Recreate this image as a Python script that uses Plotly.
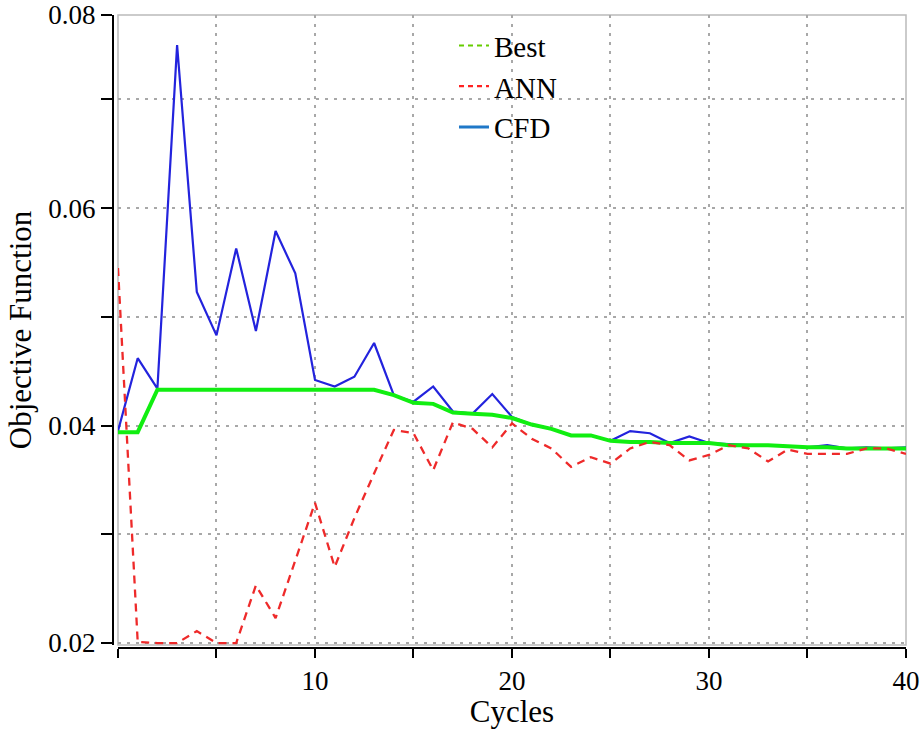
import plotly.graph_objects as go

cycles = list(range(0, 41))

cfd = [0.0395, 0.0462, 0.0434, 0.0750, 0.0523, 0.0483, 0.0563, 0.0487, 0.0579, 0.0540,
       0.0442, 0.0436, 0.0445, 0.0476, 0.0428, 0.0422, 0.0436, 0.0413, 0.0411, 0.0429,
       0.0408, 0.0401, 0.0397, 0.0391, 0.0391, 0.0386, 0.0395, 0.0393, 0.0384, 0.0390,
       0.0384, 0.0383, 0.0382, 0.0382, 0.0381, 0.0380, 0.0382, 0.0379, 0.0380, 0.0379,
       0.0380]

best = [0.0394, 0.0394, 0.0433, 0.0433, 0.0433, 0.0433, 0.0433, 0.0433, 0.0433, 0.0433,
        0.0433, 0.0433, 0.0433, 0.0433, 0.0428, 0.0421, 0.0420, 0.0412, 0.0411, 0.0410,
        0.0407, 0.0401, 0.0397, 0.0391, 0.0391, 0.0386, 0.0385, 0.0385, 0.0384, 0.0384,
        0.0384, 0.0382, 0.0382, 0.0382, 0.0381, 0.0380, 0.0380, 0.0379, 0.0379, 0.0379,
        0.0379]

ann = [0.0545, 0.0201, 0.0200, 0.0200, 0.0211, 0.0200, 0.0200, 0.0253, 0.0223, 0.0276,
       0.0329, 0.0270, 0.0315, 0.0356, 0.0396, 0.0393, 0.0359, 0.0403, 0.0397, 0.0380,
       0.0402, 0.0388, 0.0379, 0.0362, 0.0371, 0.0365, 0.0379, 0.0385, 0.0382, 0.0368,
       0.0373, 0.0382, 0.0379, 0.0367, 0.0378, 0.0374, 0.0374, 0.0374, 0.0379, 0.0379,
       0.0374]

x_tickvals = [0, 5, 10, 15, 20, 25, 30, 35, 40]
x_ticktext = ["", "", "10", "", "20", "", "30", "", "40"]
y_top = 0.07777
y_tickvals = [0.02, 0.03, 0.04, 0.05, 0.06, 0.07, y_top]
y_ticktext = ["0.02", "", "0.04", "", "0.06", "", "0.08"]

FONT = "Liberation Serif, Times New Roman, serif"

fig = go.Figure()
fig.add_trace(go.Scatter(x=cycles, y=cfd, mode="lines", showlegend=False,
                         line=dict(color="#2323dd", width=2.2)))
fig.add_trace(go.Scatter(x=cycles, y=best, mode="lines", showlegend=False,
                         line=dict(color="#11ee11", width=4)))
fig.add_trace(go.Scatter(x=cycles, y=ann, mode="lines", showlegend=False,
                         line=dict(color="#ee2a2a", width=2.3, dash="8px,6px")))

# legend entries (styled as in the reference legend)
fig.add_trace(go.Scatter(x=[None], y=[None], mode="lines", name="Best",
                         line=dict(color="#66cc00", width=2.2, dash="5px,4px")))
fig.add_trace(go.Scatter(x=[None], y=[None], mode="lines", name="ANN",
                         line=dict(color="#ff2222", width=2.2, dash="5px,4px")))
fig.add_trace(go.Scatter(x=[None], y=[None], mode="lines", name="CFD",
                         line=dict(color="#1f78c8", width=3)))

fig.add_shape(type="rect", xref="x domain", yref="y domain", x0=0, x1=1, y0=0, y1=1,
              line=dict(color="#bbbbbb", width=1.5), layer="below")

fig.update_layout(
    width=920, height=729,
    margin=dict(l=100, r=14, t=15, b=71, autoexpand=False),
    paper_bgcolor="white", plot_bgcolor="white",
    font=dict(family=FONT, color="black", size=27),
    legend=dict(x=0.4392, y=0.992, xanchor="left", yanchor="top",
                font=dict(family=FONT, size=29), bgcolor="rgba(0,0,0,0)",
                tracegroupgap=0),
    xaxis=dict(range=[0, 40], domain=[0.02233, 1], anchor="free", position=0.01555,
               tickvals=x_tickvals, ticktext=x_ticktext,
               showline=True, linecolor="black", linewidth=2,
               ticks="outside", ticklen=9, tickwidth=2, tickcolor="black",
               showgrid=True, gridcolor="#a8a8a8", gridwidth=2, griddash="3px,6px",
               zeroline=False, automargin=False,
               tickfont=dict(size=27),
               title=dict(text="Cycles", font=dict(size=31), standoff=2)),
    yaxis=dict(range=[0.01982, y_top], domain=[0.02022, 1], anchor="free", position=0.01613,
               tickvals=y_tickvals, ticktext=y_ticktext,
               showline=True, linecolor="black", linewidth=2,
               ticks="outside", ticklen=11, tickwidth=2, tickcolor="black",
               showgrid=True, gridcolor="#a8a8a8", gridwidth=2, griddash="3px,6px",
               zeroline=False, automargin=False,
               tickfont=dict(size=27),
               title=dict(text="Objective Function", font=dict(size=31), standoff=6)),
)

fig.write_html("out.html")
